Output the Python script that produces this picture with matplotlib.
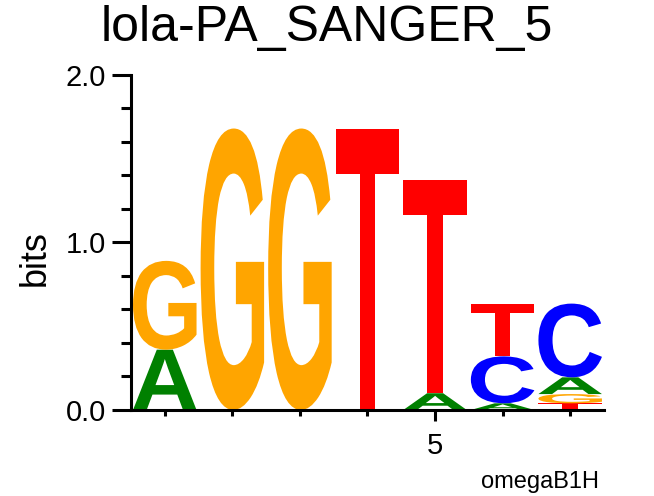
import matplotlib
matplotlib.use("Agg")
import matplotlib.pyplot as plt
from matplotlib.textpath import TextPath
from matplotlib.patches import PathPatch
from matplotlib.font_manager import FontProperties
from matplotlib.transforms import Affine2D
from matplotlib.ticker import FixedLocator

plt.rcParams["font.family"] = ["Liberation Sans", "DejaVu Sans"]

title = "lola-PA_SANGER_5"
positions = [1, 2, 3, 4, 5, 6, 7]
letters = ["A", "C", "G", "T"]
heights_A = [0.36, 0.0, 0.0, 0.0, 0.10, 0.04, 0.10]
heights_C = [0.0, 0.0, 0.0, 0.0, 0.0, 0.28, 0.44]
heights_G = [0.53, 1.68, 1.68, 0.0, 0.0, 0.0, 0.055]
heights_T = [0.0, 0.0, 0.0, 1.68, 1.27, 0.31, 0.04]
colors = {"A": "#008000", "C": "#0000FF", "G": "#FFA500", "T": "#FF0000"}

fig = plt.figure(figsize=(6.54, 4.96), dpi=100)
ax = fig.add_axes([0.2003, 0.1734, 0.7232, 0.6756])

fp = FontProperties(family="Liberation Sans", weight="bold")
width = 0.94

def draw_letter(ch, x, y0, h):
    if h <= 0:
        return
    tp = TextPath((0, 0), ch, size=1, prop=fp)
    ext = tp.get_extents()
    tr = (Affine2D()
          .translate(-ext.x0, -ext.y0)
          .scale(width / ext.width, h / ext.height)
          .translate(x - width / 2, y0))
    path = tr.transform_path(tp)
    ax.add_patch(PathPatch(path, facecolor=colors[ch], edgecolor="none"))

table = {"A": heights_A, "C": heights_C, "G": heights_G, "T": heights_T}
for i, pos in enumerate(positions):
    items = sorted([(table[l][i], l) for l in letters if table[l][i] > 0])
    y = 0.0
    for h, l in items:
        draw_letter(l, pos, y, h)
        y += h

ax.set_xlim(0.5, 7.5)
ax.set_ylim(0, 2.0)
for s in ["top", "right"]:
    ax.spines[s].set_visible(False)
ax.spines["left"].set_linewidth(2.2)
ax.spines["bottom"].set_linewidth(2.2)

ax.yaxis.set_major_locator(FixedLocator([0, 1, 2]))
ax.yaxis.set_minor_locator(FixedLocator([0.2, 0.4, 0.6, 0.8, 1.2, 1.4, 1.6, 1.8]))
ax.set_yticklabels(["0.0", "1.0", "2.0"])
ax.xaxis.set_major_locator(FixedLocator([5]))
ax.xaxis.set_minor_locator(FixedLocator([1, 2, 3, 4, 6, 7]))
ax.set_xticklabels(["5"])
ax.tick_params(axis="y", which="major", length=14, width=2.2, labelsize=21, pad=4)
ax.tick_params(axis="y", which="minor", length=7, width=2.2)
ax.tick_params(axis="x", which="major", length=8, width=2.2, labelsize=21, pad=8)
ax.tick_params(axis="x", which="minor", length=4, width=2.2)

fig.text(35 / 654, 1 - 258 / 496, "bits", rotation=90, ha="center", va="center", fontsize=26)
fig.text(0.499, 1 - 41 / 496, title, ha="center", va="baseline", fontsize=36)
fig.text(540 / 654, 1 - 488 / 496, "omegaB1H", ha="center", va="baseline", fontsize=17)

fig.savefig("out.png", dpi=100)
